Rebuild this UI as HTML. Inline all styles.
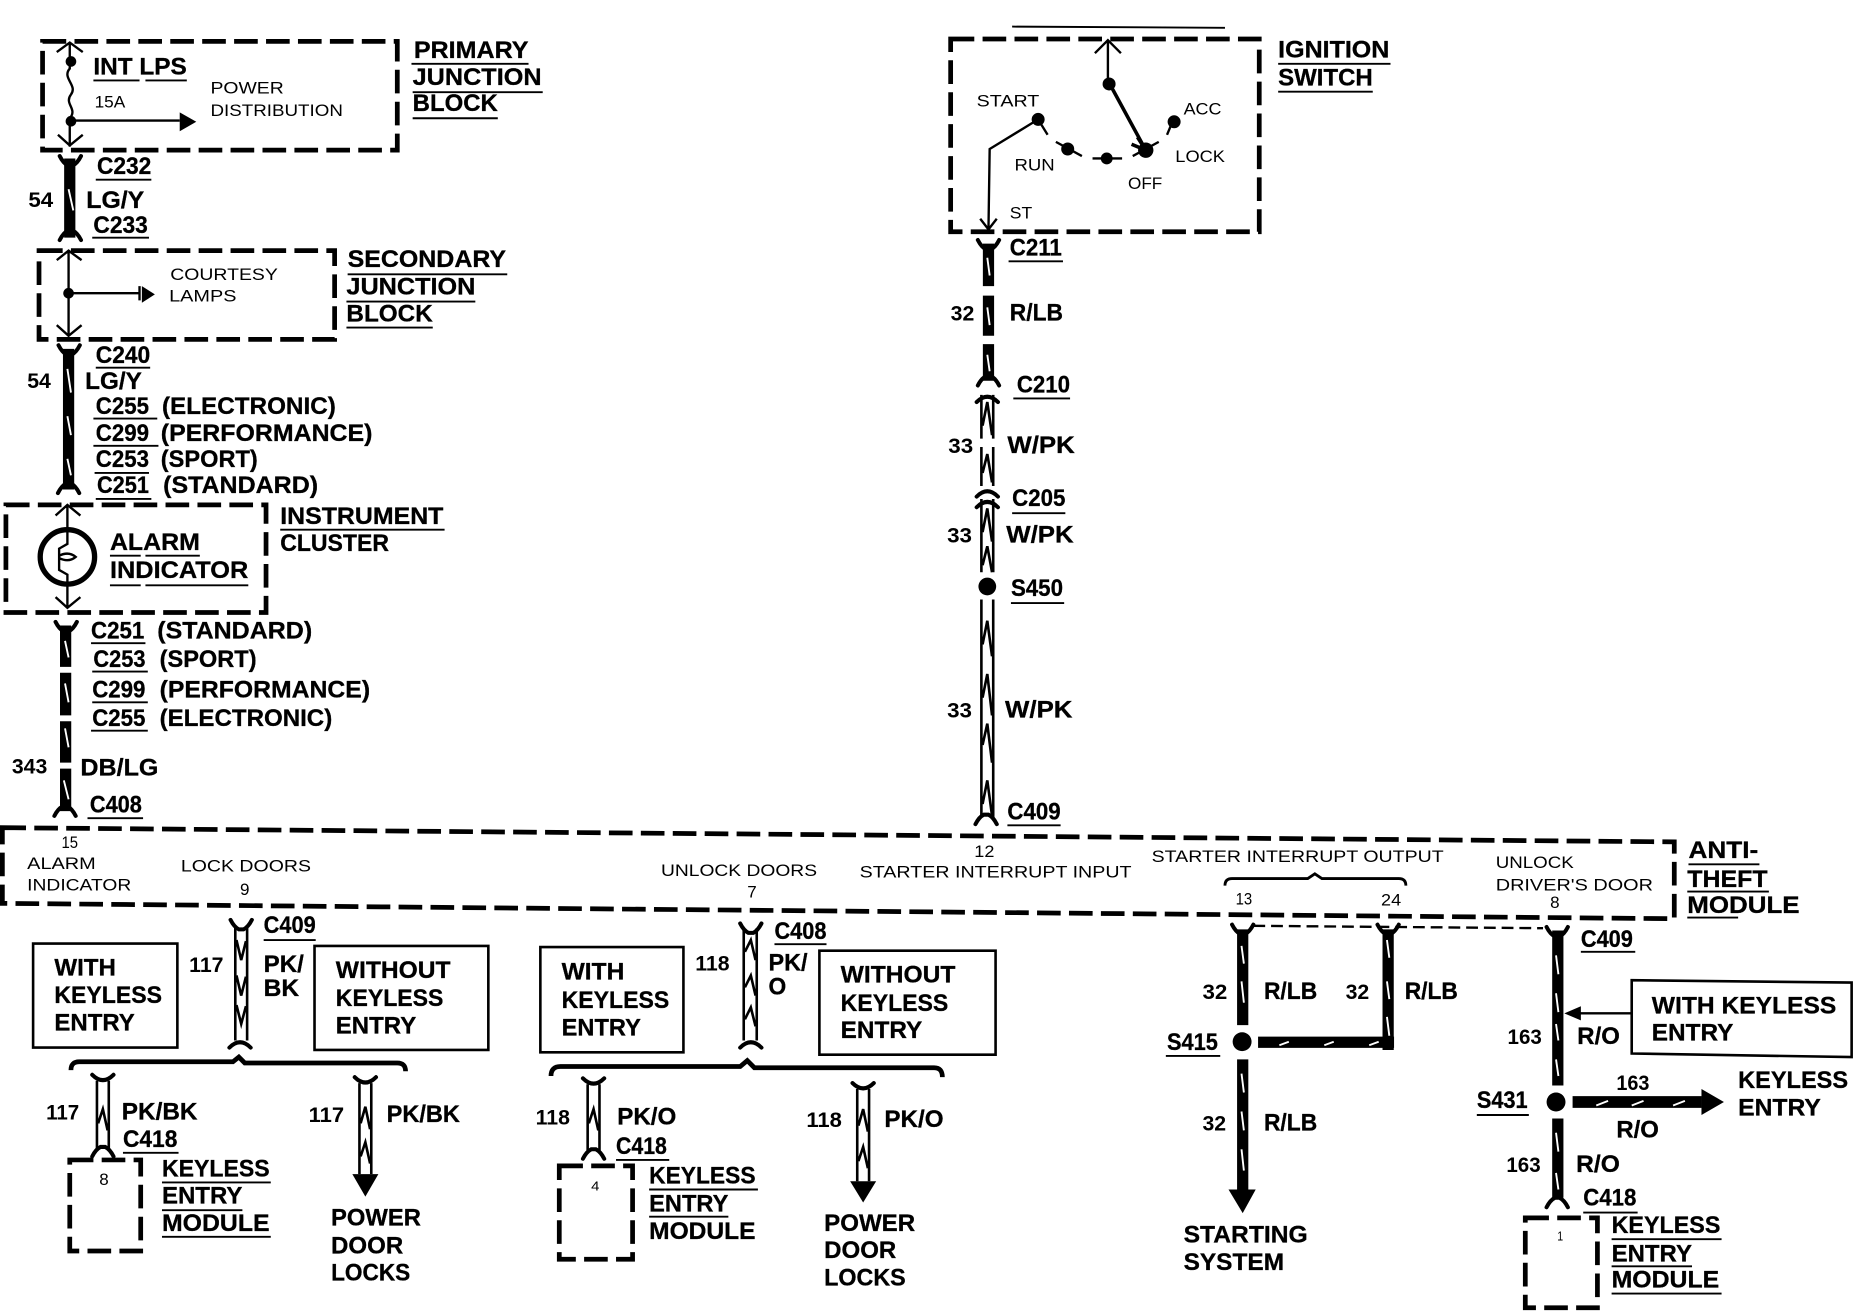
<!DOCTYPE html>
<html><head><meta charset="utf-8"><style>
html,body{margin:0;padding:0;background:#fff}
svg{display:block}
text{font-family:"Liberation Sans",sans-serif;fill:#000}
.b{font-size:20px;font-weight:bold;stroke:#000;stroke-width:.25px}
.n{font-size:18px;font-weight:bold}
.s{font-size:14px}
.u{fill:none;stroke:#000;stroke-width:1.6}
.d{fill:none;stroke:#000;stroke-width:4;stroke-dasharray:20 7}
.t{fill:none;stroke:#000;stroke-width:2}
.w{fill:none;stroke:#000;stroke-width:9.5}
.sl{fill:none;stroke:#fff;stroke-width:1.6}
.h{fill:none;stroke:#000;stroke-width:2.2}
.f{fill:none;stroke:#000;stroke-width:3.4;stroke-linecap:round}
.box{fill:none;stroke:#000;stroke-width:2.2}
</style></head><body>
<svg xmlns="http://www.w3.org/2000/svg" width="1854" height="1312" viewBox="0 0 1568 1109.6">
<defs>
<path id="ft" class="f" d="M-9,0 Q-6,6 -2,8 H2 Q6,6 9,0"/>
<path id="fb" class="f" d="M-9,0 Q-6,-6 -2,-8 H2 Q6,-6 9,0"/>
<path id="cu" class="f" d="M-9,5 Q0,-4 9,5"/>
<path id="cd" class="f" d="M-9,-5 Q0,4 9,-5"/>
</defs>
<rect width="1568" height="1110" fill="#fff"/>

<!-- dashed boxes -->
<path class="d" d="M36,35H336V127H36Z"/>
<path class="d" d="M33,212H283V287H33Z"/>
<path class="d" d="M5,427H225V518H5Z"/>
<path class="d" d="M804,33H1065V196H804Z"/>
<path class="d" d="M2,700L1416,712V777L2,764Z"/>
<path class="d" d="M59,981H119V1058H59Z"/>
<path class="d" d="M473,986H535V1065H473Z"/>
<path class="d" d="M1290,1030H1351V1106H1290Z"/>

<!-- primary junction block -->
<path class="t" d="M59,36V58C52,66 66,72 60,80C54,88 66,92 59,100V124M48,44L59,36L70,44M49,114L59,123L70,114M60,102H152"/>
<circle cx="60" cy="52" r="4.5"/><circle cx="60" cy="102.500" r="4.5"/>
<path d="M152,95L166,103L152,111Z"/>
<!-- wire 54 -->
<path class="w" d="M59,134V201"/><use href="#ft" x="59.500" y="132"/><use href="#fb" x="59.500" y="203"/>
<path class="sl" d="M58,160L62,178"/>
<!-- secondary -->
<path class="t" d="M58,212V284M48,220L58,212L69,220M48,275L58,284L69,275M58,248H117M118,242V254"/>
<circle cx="58" cy="248" r="4.500"/><path d="M120,242L131,249L120,256Z"/>
<!-- wire 54 b -->
<path class="w" d="M58,295V414"/><use href="#ft" x="58.500" y="292"/><use href="#fb" x="58" y="417"/>
<path class="sl" d="M57,312L60,332M57,352L60,368M57,388L60,402"/>
<!-- instrument cluster -->
<path class="t" d="M57,427V448M47,436L57,427L68,436M57,495V514M47,505L57,514L68,505M57,448V460L50,464V482L57,486V495M50,470Q58,466 64,471Q58,476 50,472"/>
<circle cx="57" cy="471" r="23" fill="none" stroke="#000" stroke-width="4.5"/>
<!-- wire 343 -->
<path class="w" d="M55.500,529V564M55.500,569V605M55.500,610V645M55.500,650V686"/><use href="#ft" x="56" y="526"/><use href="#fb" x="55" y="690"/>
<path class="sl" d="M55,542L58,556M55,578L58,594M55,616L58,632M54,660L58,676"/>

<!-- lock doors wire -->
<path class="h" d="M199,783V880M209,783V880M200,795L204,812L208,796M200,825L204,842L208,826M200,850L204,866L208,851"/>
<use href="#ft" x="204" y="778"/><use href="#cu" x="203" y="881"/>
<!-- boxes -->
<path class="box" d="M28,798H150V886H28Z"/>
<path class="box" d="M266,800H413V888H266Z"/>
<path class="box" d="M457,801H578V890H457Z"/>
<path class="box" d="M693,804H842V892H693Z"/>
<path class="box" d="M1380,829L1566,831V894L1380,891Z"/>
<!-- braces -->
<path fill="none" stroke="#000" stroke-width="4" d="M60,905Q60,898 67,898H197L202,894L207,899H336Q343,899 343,906"/>
<path fill="none" stroke="#000" stroke-width="4" d="M466,910Q466,902 474,902H626L632,897L638,903H790Q797,903 797,911"/>
<path fill="none" stroke="#000" stroke-width="2.400" d="M1036,749Q1036,743 1042,743H1106L1112,739L1118,743H1183Q1189,743 1189,749"/>
<!-- hollow 117 -->
<path class="h" d="M82,914V972M92,914V972M83,950L87,938L91,956"/>
<use href="#cd" x="87" y="914"/><use href="#fb" x="87" y="978"/>
<path class="h" d="M304,916V993M314,916V993M305,950L309,936L313,955M305,978L309,966L313,984"/>
<use href="#cd" x="309" y="916"/>
<path d="M298,993H320L309,1012Z"/>
<!-- centre 118 -->
<path class="h" d="M629,785V880M640,785V880M630,805L635,795L639,812M630,835L635,825L639,842M630,862L635,852L639,868"/>
<use href="#ft" x="635" y="781"/><use href="#cu" x="635" y="881"/>
<path class="h" d="M497,917V974M507,917V974M498,950L502,938L506,956"/>
<use href="#cd" x="502" y="917"/><use href="#fb" x="502" y="980"/>
<path class="h" d="M725,921V999M735,921V999M726,952L730,938L734,957M726,982L730,970L734,988"/>
<use href="#cd" x="730" y="921"/>
<path d="M719,999H741L730,1017Z"/>

<!-- ignition switch -->
<path d="M856,22.500L1036,23.500" class="u"/>
<path class="t" d="M937,34V70M926,45L937,34L948,45M878,101L837,126L836,193M829,185L836,194L843,185"/>
<path fill="none" stroke="#000" stroke-width="3" d="M938,70L969,127M962,116L969,127L957,122"/>
<circle cx="938" cy="71" r="5.500"/><circle cx="878" cy="101" r="5.500"/>
<path class="t" d="M878,101L886,114M893,120L915,132M924,134H949M958,132L980,120M987,114L992,102"/>
<circle cx="903" cy="126" r="5.500"/><circle cx="936" cy="134" r="5"/><circle cx="969" cy="127" r="6.500"/><circle cx="993" cy="103" r="5.500"/>
<!-- wire 32 R/LB top -->
<path class="w" d="M836,206V242M836,250V284M836,291V322"/><use href="#ft" x="836" y="203"/><use href="#fb" x="836" y="326"/>
<path class="sl" d="M835,218L837,233M835,260L837,275M835,300L837,314"/>
<!-- w/pk -->
<use href="#cu" x="835" y="335"/>
<path class="h" d="M830,334V371M830,378V411M840,334V371M840,378V411M831,360L835,340L839,368M831,400L835,384L839,408"/>
<use href="#cu" x="835" y="415"/><use href="#cu" x="835" y="424"/>
<path class="h" d="M830,422V484M840,422V484M831,450L835,430L839,458M831,478L835,462L839,484"/>
<circle cx="835" cy="496" r="7.500"/>
<path class="h" d="M830,507V691M840,507V691M831,545L835,525L839,555M831,590L835,570L839,605M831,630L835,612L839,645M831,680L835,660L839,690"/>
<use href="#fb" x="834" y="697"/>

<!-- R/LB -->
<path class="t" style="stroke-dasharray:10 5" d="M1060,783L1305,785"/>
<path class="w" d="M1051,786V867M1051,896V1006M1174,786V888M1064,881.500H1179"/>
<use href="#ft" x="1051" y="782"/><use href="#ft" x="1174" y="782"/>
<circle cx="1050.500" cy="881" r="8"/>
<path d="M1039,1006H1062L1051,1026Z"/>
<path class="sl" d="M1050,800L1052,815M1050,830L1052,848M1050,908L1052,924M1050,940L1052,956M1050,972L1052,990M1173,795L1175,810M1173,830L1175,845M1173,860L1175,876M1082,884L1090,881M1120,884L1128,881M1158,884L1166,881"/>
<!-- R/O -->
<path class="w" d="M1317.500,787V918M1317.500,946V1013"/><use href="#ft" x="1317" y="784"/><use href="#fb" x="1317" y="1021"/>
<circle cx="1316" cy="932" r="8"/>
<path class="w" style="stroke-width:10" d="M1330,932H1439"/>
<path d="M1439,921L1458,932L1439,943Z"/>
<path class="sl" d="M1316,808L1318,824M1316,840L1318,856M1316,866L1318,880M1316,896L1318,910M1316,958L1318,974M1316,992L1318,1006M1350,935L1360,931M1380,935L1390,931M1415,935L1425,931"/>
<path class="t" d="M1380,857H1330"/><path d="M1323,857L1337,851V863Z"/>

<!-- underlines -->
<path class="u" d="M79,68H118M123,68H158M348,54H447M349,78H459M349,100H421M81,152H128M78,201H126M294,232H429M293,255H402M293,277H366M81,311H127M79,354H133M79,377H134M80,400H126M81,422H128M93,470H119M123,470H169M93,495H119M123,495H210M237,448H376M77,544H123M78,568H125M78,594H125M77,618H125M74,692H121M1081,54H1176M1081,77.500H1161M853,221H899M857,337H905M856,434H901M855,510H900M852,698H897M223,795H267M104,975H151M137,1000H229M137,1023.500H205M137,1046H229M655,798.500H699M521,981H566M549,1006H641M549,1029H616M986,893H1032M1337,805H1383M1249,943H1293M1339,1025.500H1385M1363,1048H1456M1363,1071H1431M1363,1094H1456M1428,731H1488M1427,754H1496M1427,776H1470"/>

<!-- bold text -->
<g class="b">
<text x="79" y="63" textLength="79" lengthAdjust="spacingAndGlyphs">INT LPS</text>
<text x="350" y="49" textLength="97" lengthAdjust="spacingAndGlyphs">PRIMARY</text>
<text x="349" y="72" textLength="109" lengthAdjust="spacingAndGlyphs">JUNCTION</text>
<text x="349" y="94" textLength="72" lengthAdjust="spacingAndGlyphs">BLOCK</text>
<text x="82" y="147" textLength="46" lengthAdjust="spacingAndGlyphs">C232</text>
<text x="73" y="176" textLength="49" lengthAdjust="spacingAndGlyphs">LG/Y</text>
<text x="79" y="197" textLength="46" lengthAdjust="spacingAndGlyphs">C233</text>
<text x="294" y="226" textLength="134" lengthAdjust="spacingAndGlyphs">SECONDARY</text>
<text x="293" y="249" textLength="109" lengthAdjust="spacingAndGlyphs">JUNCTION</text>
<text x="293" y="272" textLength="73" lengthAdjust="spacingAndGlyphs">BLOCK</text>
<text x="81" y="307" textLength="46" lengthAdjust="spacingAndGlyphs">C240</text>
<text x="72" y="329" textLength="48" lengthAdjust="spacingAndGlyphs">LG/Y</text>
<text x="81" y="350" textLength="45" lengthAdjust="spacingAndGlyphs">C255</text>
<text x="137" y="350" textLength="147" lengthAdjust="spacingAndGlyphs">(ELECTRONIC)</text>
<text x="81" y="373" textLength="45" lengthAdjust="spacingAndGlyphs">C299</text>
<text x="136" y="373" textLength="179" lengthAdjust="spacingAndGlyphs">(PERFORMANCE)</text>
<text x="81" y="395" textLength="45" lengthAdjust="spacingAndGlyphs">C253</text>
<text x="136" y="395" textLength="82" lengthAdjust="spacingAndGlyphs">(SPORT)</text>
<text x="82" y="417" textLength="44" lengthAdjust="spacingAndGlyphs">C251</text>
<text x="138" y="417" textLength="131" lengthAdjust="spacingAndGlyphs">(STANDARD)</text>
<text x="93" y="465" textLength="76" lengthAdjust="spacingAndGlyphs">ALARM</text>
<text x="93" y="489" textLength="117" lengthAdjust="spacingAndGlyphs">INDICATOR</text>
<text x="237" y="443" textLength="138" lengthAdjust="spacingAndGlyphs">INSTRUMENT</text>
<text x="237" y="466" textLength="92" lengthAdjust="spacingAndGlyphs">CLUSTER</text>
<text x="77" y="540" textLength="45" lengthAdjust="spacingAndGlyphs">C251</text>
<text x="133" y="540" textLength="131" lengthAdjust="spacingAndGlyphs">(STANDARD)</text>
<text x="79" y="564" textLength="44" lengthAdjust="spacingAndGlyphs">C253</text>
<text x="135" y="564" textLength="82" lengthAdjust="spacingAndGlyphs">(SPORT)</text>
<text x="78" y="590" textLength="45" lengthAdjust="spacingAndGlyphs">C299</text>
<text x="135" y="590" textLength="178" lengthAdjust="spacingAndGlyphs">(PERFORMANCE)</text>
<text x="78" y="614" textLength="45" lengthAdjust="spacingAndGlyphs">C255</text>
<text x="135" y="614" textLength="146" lengthAdjust="spacingAndGlyphs">(ELECTRONIC)</text>
<text x="68" y="656" textLength="66" lengthAdjust="spacingAndGlyphs">DB/LG</text>
<text x="76" y="687" textLength="44" lengthAdjust="spacingAndGlyphs">C408</text>
<text x="1081" y="48.500" textLength="94" lengthAdjust="spacingAndGlyphs">IGNITION</text>
<text x="1081" y="72.500" textLength="80" lengthAdjust="spacingAndGlyphs">SWITCH</text>
<text x="854" y="216" textLength="44" lengthAdjust="spacingAndGlyphs">C211</text>
<text x="854" y="271" textLength="45" lengthAdjust="spacingAndGlyphs">R/LB</text>
<text x="860" y="332" textLength="45" lengthAdjust="spacingAndGlyphs">C210</text>
<text x="852" y="383" textLength="57" lengthAdjust="spacingAndGlyphs">W/PK</text>
<text x="856" y="428" textLength="45" lengthAdjust="spacingAndGlyphs">C205</text>
<text x="851" y="459" textLength="57" lengthAdjust="spacingAndGlyphs">W/PK</text>
<text x="855" y="504" textLength="44" lengthAdjust="spacingAndGlyphs">S450</text>
<text x="850" y="607" textLength="57" lengthAdjust="spacingAndGlyphs">W/PK</text>
<text x="852" y="693" textLength="45" lengthAdjust="spacingAndGlyphs">C409</text>
<text x="1428" y="725.500" textLength="59" lengthAdjust="spacingAndGlyphs">ANTI-</text>
<text x="1427" y="750" textLength="68" lengthAdjust="spacingAndGlyphs">THEFT</text>
<text x="1427" y="772" textLength="95" lengthAdjust="spacingAndGlyphs">MODULE</text>
<text x="223" y="789" textLength="44" lengthAdjust="spacingAndGlyphs">C409</text>
<text x="223" y="822" textLength="34" lengthAdjust="spacingAndGlyphs">PK/</text>
<text x="223" y="842.500" textLength="30" lengthAdjust="spacingAndGlyphs">BK</text>
<text x="46" y="825" textLength="52" lengthAdjust="spacingAndGlyphs">WITH</text>
<text x="46" y="848.400" textLength="91" lengthAdjust="spacingAndGlyphs">KEYLESS</text>
<text x="46" y="871.600" textLength="68" lengthAdjust="spacingAndGlyphs">ENTRY</text>
<text x="284" y="827" textLength="97" lengthAdjust="spacingAndGlyphs">WITHOUT</text>
<text x="284" y="851" textLength="91" lengthAdjust="spacingAndGlyphs">KEYLESS</text>
<text x="284" y="874" textLength="68" lengthAdjust="spacingAndGlyphs">ENTRY</text>
<text x="103" y="947" textLength="64" lengthAdjust="spacingAndGlyphs">PK/BK</text>
<text x="104" y="970" textLength="46" lengthAdjust="spacingAndGlyphs">C418</text>
<text x="137" y="995" textLength="91" lengthAdjust="spacingAndGlyphs">KEYLESS</text>
<text x="137" y="1018" textLength="68" lengthAdjust="spacingAndGlyphs">ENTRY</text>
<text x="137" y="1041" textLength="91" lengthAdjust="spacingAndGlyphs">MODULE</text>
<text x="327" y="949" textLength="62" lengthAdjust="spacingAndGlyphs">PK/BK</text>
<text x="280" y="1036.600" textLength="76" lengthAdjust="spacingAndGlyphs">POWER</text>
<text x="280" y="1060" textLength="61" lengthAdjust="spacingAndGlyphs">DOOR</text>
<text x="280" y="1083" textLength="67" lengthAdjust="spacingAndGlyphs">LOCKS</text>
<text x="655" y="794" textLength="44" lengthAdjust="spacingAndGlyphs">C408</text>
<text x="650" y="821" textLength="33" lengthAdjust="spacingAndGlyphs">PK/</text>
<text x="650" y="841" textLength="15" lengthAdjust="spacingAndGlyphs">O</text>
<text x="475" y="828.600" textLength="53" lengthAdjust="spacingAndGlyphs">WITH</text>
<text x="475" y="852.500" textLength="91" lengthAdjust="spacingAndGlyphs">KEYLESS</text>
<text x="475" y="875.600" textLength="67" lengthAdjust="spacingAndGlyphs">ENTRY</text>
<text x="711" y="831" textLength="97" lengthAdjust="spacingAndGlyphs">WITHOUT</text>
<text x="711" y="855" textLength="91" lengthAdjust="spacingAndGlyphs">KEYLESS</text>
<text x="711" y="878" textLength="69" lengthAdjust="spacingAndGlyphs">ENTRY</text>
<text x="522" y="951" textLength="50" lengthAdjust="spacingAndGlyphs">PK/O</text>
<text x="521" y="976" textLength="43" lengthAdjust="spacingAndGlyphs">C418</text>
<text x="549" y="1001" textLength="90" lengthAdjust="spacingAndGlyphs">KEYLESS</text>
<text x="549" y="1024.500" textLength="67" lengthAdjust="spacingAndGlyphs">ENTRY</text>
<text x="549" y="1048" textLength="90" lengthAdjust="spacingAndGlyphs">MODULE</text>
<text x="748" y="953" textLength="50" lengthAdjust="spacingAndGlyphs">PK/O</text>
<text x="697" y="1041" textLength="77" lengthAdjust="spacingAndGlyphs">POWER</text>
<text x="697" y="1064" textLength="61" lengthAdjust="spacingAndGlyphs">DOOR</text>
<text x="697" y="1087" textLength="69" lengthAdjust="spacingAndGlyphs">LOCKS</text>
<text x="1069" y="845" textLength="45" lengthAdjust="spacingAndGlyphs">R/LB</text>
<text x="1188" y="845" textLength="45" lengthAdjust="spacingAndGlyphs">R/LB</text>
<text x="987" y="888" textLength="43" lengthAdjust="spacingAndGlyphs">S415</text>
<text x="1069" y="956" textLength="45" lengthAdjust="spacingAndGlyphs">R/LB</text>
<text x="1001" y="1051" textLength="105" lengthAdjust="spacingAndGlyphs">STARTING</text>
<text x="1001" y="1074" textLength="85" lengthAdjust="spacingAndGlyphs">SYSTEM</text>
<text x="1337" y="801" textLength="44" lengthAdjust="spacingAndGlyphs">C409</text>
<text x="1397" y="857" textLength="156" lengthAdjust="spacingAndGlyphs">WITH KEYLESS</text>
<text x="1397" y="880" textLength="69" lengthAdjust="spacingAndGlyphs">ENTRY</text>
<text x="1334" y="883" textLength="36" lengthAdjust="spacingAndGlyphs">R/O</text>
<text x="1249" y="937" textLength="43" lengthAdjust="spacingAndGlyphs">S431</text>
<text x="1367" y="962" textLength="36" lengthAdjust="spacingAndGlyphs">R/O</text>
<text x="1470" y="920" textLength="93" lengthAdjust="spacingAndGlyphs">KEYLESS</text>
<text x="1470" y="943.500" textLength="70" lengthAdjust="spacingAndGlyphs">ENTRY</text>
<text x="1333" y="991" textLength="37" lengthAdjust="spacingAndGlyphs">R/O</text>
<text x="1339" y="1019.500" textLength="45" lengthAdjust="spacingAndGlyphs">C418</text>
<text x="1363" y="1043" textLength="92" lengthAdjust="spacingAndGlyphs">KEYLESS</text>
<text x="1363" y="1067" textLength="68" lengthAdjust="spacingAndGlyphs">ENTRY</text>
<text x="1363" y="1089" textLength="91" lengthAdjust="spacingAndGlyphs">MODULE</text>
</g>

<!-- numbers -->
<g class="n">
<text x="24" y="175" textLength="21" lengthAdjust="spacingAndGlyphs">54</text>
<text x="23" y="328" textLength="20" lengthAdjust="spacingAndGlyphs">54</text>
<text x="10" y="654" textLength="30" lengthAdjust="spacingAndGlyphs">343</text>
<text x="804" y="271" textLength="20" lengthAdjust="spacingAndGlyphs">32</text>
<text x="802" y="383" textLength="21" lengthAdjust="spacingAndGlyphs">33</text>
<text x="801" y="459" textLength="21" lengthAdjust="spacingAndGlyphs">33</text>
<text x="801" y="607" textLength="21" lengthAdjust="spacingAndGlyphs">33</text>
<text x="160" y="822" textLength="29" lengthAdjust="spacingAndGlyphs">117</text>
<text x="39" y="947" textLength="28" lengthAdjust="spacingAndGlyphs">117</text>
<text x="261" y="949" textLength="30" lengthAdjust="spacingAndGlyphs">117</text>
<text x="588" y="821" textLength="29" lengthAdjust="spacingAndGlyphs">118</text>
<text x="453" y="951" textLength="29" lengthAdjust="spacingAndGlyphs">118</text>
<text x="682" y="953" textLength="30" lengthAdjust="spacingAndGlyphs">118</text>
<text x="1017" y="845" textLength="21" lengthAdjust="spacingAndGlyphs">32</text>
<text x="1138" y="845" textLength="20" lengthAdjust="spacingAndGlyphs">32</text>
<text x="1017" y="956" textLength="20" lengthAdjust="spacingAndGlyphs">32</text>
<text x="1275" y="883" textLength="29" lengthAdjust="spacingAndGlyphs">163</text>
<text x="1367" y="922" textLength="28" lengthAdjust="spacingAndGlyphs">163</text>
<text x="1274" y="991" textLength="29" lengthAdjust="spacingAndGlyphs">163</text>
</g>

<!-- small text -->
<g class="s">
<text x="80" y="91" textLength="26" lengthAdjust="spacingAndGlyphs">15A</text>
<text x="178" y="79" textLength="62" lengthAdjust="spacingAndGlyphs">POWER</text>
<text x="178" y="98" textLength="112" lengthAdjust="spacingAndGlyphs">DISTRIBUTION</text>
<text x="144" y="237" textLength="91" lengthAdjust="spacingAndGlyphs">COURTESY</text>
<text x="143" y="255" textLength="57" lengthAdjust="spacingAndGlyphs">LAMPS</text>
<text x="826" y="90" textLength="53" lengthAdjust="spacingAndGlyphs">START</text>
<text x="1001" y="96.700" textLength="32" lengthAdjust="spacingAndGlyphs">ACC</text>
<text x="858" y="144" textLength="34" lengthAdjust="spacingAndGlyphs">RUN</text>
<text x="994" y="137" textLength="42" lengthAdjust="spacingAndGlyphs">LOCK</text>
<text x="954" y="160" textLength="29" lengthAdjust="spacingAndGlyphs">OFF</text>
<text x="854" y="185" textLength="19" lengthAdjust="spacingAndGlyphs">ST</text>
<text x="52" y="717" textLength="14" lengthAdjust="spacingAndGlyphs">15</text>
<text x="23" y="735" textLength="58" lengthAdjust="spacingAndGlyphs">ALARM</text>
<text x="23" y="753" textLength="88" lengthAdjust="spacingAndGlyphs">INDICATOR</text>
<text x="153" y="737" textLength="110" lengthAdjust="spacingAndGlyphs">LOCK DOORS</text>
<text x="203" y="757" textLength="8" lengthAdjust="spacingAndGlyphs">9</text>
<text x="559" y="741" textLength="132" lengthAdjust="spacingAndGlyphs">UNLOCK DOORS</text>
<text x="632" y="759" textLength="8" lengthAdjust="spacingAndGlyphs">7</text>
<text x="824" y="725" textLength="17" lengthAdjust="spacingAndGlyphs">12</text>
<text x="727" y="742" textLength="230" lengthAdjust="spacingAndGlyphs">STARTER INTERRUPT INPUT</text>
<text x="974" y="729" textLength="247" lengthAdjust="spacingAndGlyphs">STARTER INTERRUPT OUTPUT</text>
<text x="1265" y="734" textLength="66" lengthAdjust="spacingAndGlyphs">UNLOCK</text>
<text x="1265" y="753" textLength="133" lengthAdjust="spacingAndGlyphs">DRIVER'S DOOR</text>
<text x="1045" y="765" textLength="14" lengthAdjust="spacingAndGlyphs">13</text>
<text x="1168" y="766" textLength="17" lengthAdjust="spacingAndGlyphs">24</text>
<text x="1311" y="768" textLength="8" lengthAdjust="spacingAndGlyphs">8</text>
<text x="84" y="1002" textLength="8" lengthAdjust="spacingAndGlyphs">8</text>
<text x="500" y="1007" textLength="7" lengthAdjust="spacingAndGlyphs" style="font-size:11px">4</text>
<text x="1317" y="1049" textLength="5" lengthAdjust="spacingAndGlyphs" style="font-size:11px">1</text>
</g>
</svg>
</body></html>
